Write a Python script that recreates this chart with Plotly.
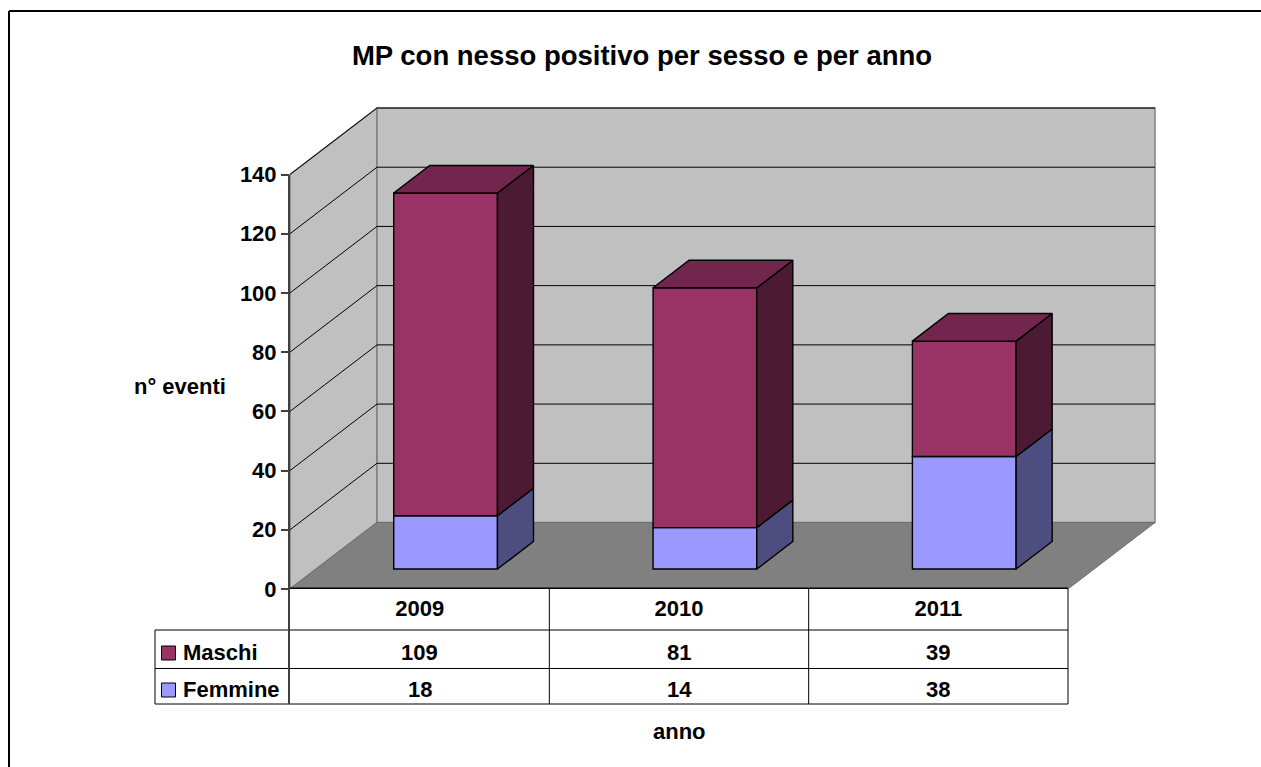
import plotly.graph_objects as go

years = ["2009", "2010", "2011"]
maschi = [109, 81, 39]
femmine = [18, 14, 38]
y_ticks = [0, 20, 40, 60, 80, 100, 120, 140]
title = "MP con nesso positivo per sesso e per anno"

FONT = "Liberation Sans"
W, H = 1261, 767
L, R, T, B = 290, 1157, 106, 589          # plot area in pixels
PX_X = (1068 - 290) / 3                    # pixels per category
PX_Y = (589 - 174.5) / 140                 # pixels per unit
DX, DY = 87 / PX_X, 66.5 / PX_Y            # depth of the floor in data units
BAR_W = 0.4
BAR_DX, BAR_DY = 0.414 * DX, 0.414 * DY    # depth of a bar
OFF_Y = 0.3 * DY                           # bar placement inside the floor
CENTER = 0.6
EDGE = 1.4

def px(p):
    return (p - L) / (R - L)

def py(p):
    return (B - p) / (B - T)

xs = [i + CENTER for i in range(len(years))]

fig = go.Figure()
shapes = []

def poly(pts, fill, line="#808080", width=1.5):
    path = "M" + "L".join(f"{a},{b}" for a, b in pts) + "Z"
    shapes.append(dict(type="path", path=path, xref="x", yref="y", fillcolor=fill,
                       line=dict(color=line, width=width), layer="below"))

n = len(years)
top = y_ticks[-1]
poly([(0, 0), (DX, DY), (DX, top + DY), (0, top)], "#c0c0c0")
poly([(DX, DY), (n + DX, DY), (n + DX, top + DY), (DX, top + DY)], "#c0c0c0")
poly([(0, 0), (n, 0), (n + DX, DY), (DX, DY)], "#808080", "#6e6e6e", 1)
for t in y_ticks[1:]:
    shapes.append(dict(type="line", x0=0, y0=t, x1=DX, y1=t + DY, xref="x", yref="y",
                       line=dict(color="black", width=1), layer="below"))
    shapes.append(dict(type="line", x0=DX, y0=t + DY, x1=n + DX, y1=t + DY, xref="x", yref="y",
                       line=dict(color="black", width=1), layer="below"))

series = [("Femmine", femmine, [0, 0, 0], "#9999ff", "#4d4d80", None),
          ("Maschi", maschi, femmine, "#993366", "#4d1a33", "#73264d")]

for name, vals, below, c_front, c_side, c_top in series:
    bases = [OFF_Y + b for b in below]
    fig.add_trace(go.Bar(x=xs, y=vals, base=bases, width=BAR_W, name=name,
                         marker=dict(color=c_front, line=dict(color="black", width=EDGE)),
                         hoverinfo="skip", showlegend=False))

for name, vals, below, c_front, c_side, c_top in series:
    for x, v, b in zip(xs, vals, below):
        x1 = x + BAR_W / 2
        y0, y1 = OFF_Y + b, OFF_Y + b + v
        fig.add_trace(go.Scatter(x=[x1, x1 + BAR_DX, x1 + BAR_DX, x1, x1],
                                 y=[y0, y0 + BAR_DY, y1 + BAR_DY, y1, y0],
                                 mode="lines", fill="toself", fillcolor=c_side,
                                 line=dict(color="black", width=EDGE), showlegend=False,
                                 hoverinfo="skip"))
        if c_top:
            x0 = x - BAR_W / 2
            fig.add_trace(go.Scatter(x=[x0, x1, x1 + BAR_DX, x0 + BAR_DX, x0],
                                     y=[y1, y1, y1 + BAR_DY, y1 + BAR_DY, y1],
                                     mode="lines", fill="toself", fillcolor=c_top,
                                     line=dict(color="black", width=EDGE), showlegend=False,
                                     hoverinfo="skip"))

# data table
black = dict(color="black", width=1)
for yy in (630, 668.5, 704):
    shapes.append(dict(type="line", xref="paper", yref="paper", x0=px(155), x1=px(1068),
                       y0=py(yy), y1=py(yy), line=black))
shapes.append(dict(type="line", xref="paper", yref="paper", x0=px(155), x1=px(155),
                   y0=py(630), y1=py(704), line=black))
shapes.append(dict(type="line", xref="paper", yref="paper", x0=px(289), x1=px(289),
                   y0=py(174.5), y1=py(704), line=dict(color="#404040", width=2)))
for i in range(1, n + 1):
    shapes.append(dict(type="line", xref="x", yref="paper", x0=i, x1=i,
                       y0=py(589), y1=py(704), line=black))
# keys of the table rows
for yy, s in ((653, series[1]), (690, series[0])):
    shapes.append(dict(type="rect", xref="paper", yref="paper", x0=px(161.5), x1=px(175.5),
                       y0=py(yy + 7), y1=py(yy - 7), fillcolor=s[3], line=black))
# chart frame
shapes.append(dict(type="line", xref="paper", yref="paper", x0=px(9), x1=px(W),
                   y0=py(11), y1=py(11), line=dict(color="black", width=2)))
shapes.append(dict(type="line", xref="paper", yref="paper", x0=px(9), x1=px(9),
                   y0=py(11), y1=py(H), line=dict(color="black", width=2)))
shapes.append(dict(type="line", xref="x", yref="y", x0=0, x1=n, y0=0, y1=0,
                   line=dict(color="black", width=3)))

ann = []
def text(s, xv, yv, xref="paper", size=22, anchor="center"):
    ann.append(dict(text=f"<b>{s}</b>", x=xv, y=yv, xref=xref, yref="paper", showarrow=False,
                    xanchor=anchor, yanchor="middle", font=dict(family=FONT, size=size, color="black")))

for i in range(n):
    text(str(maschi[i]), i + 0.5, py(652.5), "x")
    text(str(femmine[i]), i + 0.5, py(689.5), "x")
text("Maschi", px(181), py(652.5), anchor="left")
text("Femmine", px(181), py(689.5), anchor="left")
text("n° eventi", px(180), py(386))
text("anno", px(679), py(731))

fig.update_layout(
    width=W, height=H,
    margin=dict(l=L, r=W - R, t=T, b=H - B, pad=0),
    paper_bgcolor="white", plot_bgcolor="white",
    barmode="overlay", showlegend=False,
    font=dict(family=FONT, size=22, color="black"),
    title=dict(text=f"<b>{title}</b>", x=642 / W, xanchor="center", y=1 - 55 / H, yanchor="middle",
               font=dict(family=FONT, size=27.5, color="black")),
    xaxis=dict(range=[0, (R - L) / PX_X], tickmode="array", tickvals=[i + 0.5 for i in range(n)],
               ticktext=[f"<b>{y}</b>" for y in years], ticks="", showgrid=False, zeroline=False,
               showline=False, ticklabelstandoff=4, tickfont=dict(family=FONT, size=22)),
    yaxis=dict(range=[0, (B - T) / PX_Y], tickmode="array", tickvals=y_ticks,
               ticktext=[f"<b>{t}</b>" for t in y_ticks], ticks="outside", ticklen=8, tickwidth=2,
               tickcolor="#404040", showgrid=False, zeroline=False, showline=False,
               tickfont=dict(family=FONT, size=22)),
    shapes=shapes, annotations=ann,
)

fig.write_html("out.html", config=dict(displayModeBar=False),
               post_script="document.body.style.margin='0';document.body.style.overflow='hidden';")
